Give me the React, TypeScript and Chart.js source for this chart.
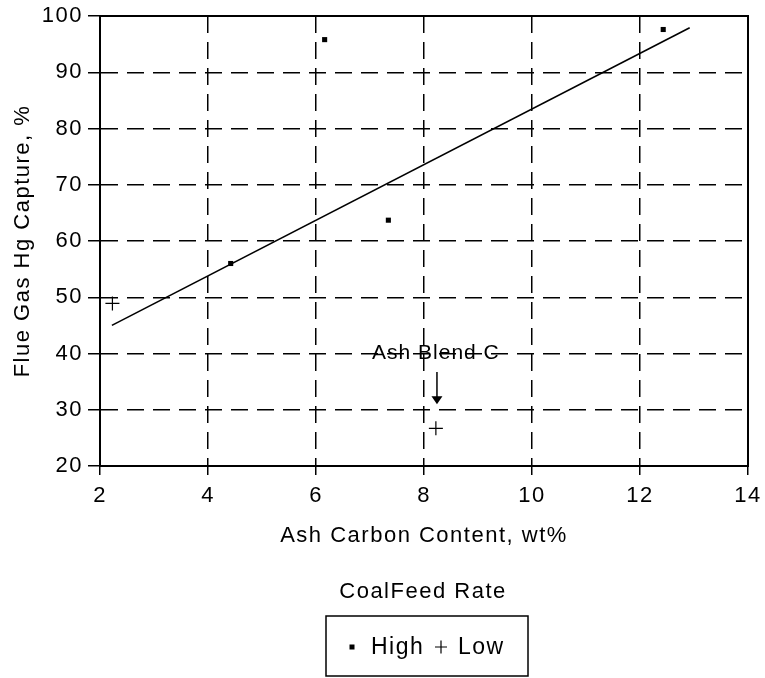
import React, { useEffect, useRef } from 'react';
import { Chart, registerables } from 'chart.js';

Chart.register(...registerables);

// ---- data ----
const xTickValues = [2, 4, 6, 8, 10, 12, 14];
const yTickValues = [20, 30, 40, 50, 60, 70, 80, 90, 100];
const seriesNames = ['High', 'Low'];
const highX = [4.42, 6.16, 7.34, 12.43];
const highY = [56, 95.8, 63.7, 97.6];
const lowX = [2.23, 8.22];
const lowY = [48.9, 26.7];
const trendX = [2.22, 12.92];
const trendY = [45.0, 97.9];
const legendTitle = 'CoalFeed Rate';
const xTitle = 'Ash Carbon Content, wt%';
const yTitle = 'Flue Gas Hg Capture, %';
const noteText = 'Ash Blend C';
const noteTextAt = [8.22, 40];
const noteArrowFrom = [8.24, 36.7];
const noteArrowTo = [8.24, 31.0];

const FONT = '"Liberation Sans", Arial, Helvetica, sans-serif';
const SPACING = '1.5px';

const toPoints = (xs: number[], ys: number[]) => xs.map((x, i) => ({ x, y: ys[i] }));

const spacingPlugin = {
  id: 'spacing',
  beforeLayout(chart: any) {
    chart.ctx.letterSpacing = SPACING;
  },
  beforeDraw(chart: any) {
    chart.ctx.letterSpacing = SPACING;
  },
};

const framePlugin = {
  id: 'frame',
  afterDatasetsDraw(chart: any) {
    const { ctx, chartArea: a, scales } = chart;
    ctx.save();
    ctx.strokeStyle = '#000';
    ctx.lineWidth = 2;
    ctx.setLineDash([]);
    ctx.strokeRect(a.left, a.top, a.right - a.left, a.bottom - a.top);

    // annotation
    const xs = scales.x, ys = scales.y;
    ctx.fillStyle = '#000';
    ctx.font = `21px ${FONT}`;
    (ctx as any).letterSpacing = '1px';
    ctx.textAlign = 'center';
    ctx.textBaseline = 'middle';
    ctx.fillText(noteText, xs.getPixelForValue(noteTextAt[0]), ys.getPixelForValue(noteTextAt[1]));
    const ax = xs.getPixelForValue(noteArrowFrom[0]);
    const ay1 = ys.getPixelForValue(noteArrowFrom[1]);
    const ay2 = ys.getPixelForValue(noteArrowTo[1]);
    ctx.lineWidth = 1.5;
    ctx.beginPath();
    ctx.moveTo(ax, ay1);
    ctx.lineTo(ax, ay2 - 6);
    ctx.stroke();
    ctx.beginPath();
    ctx.moveTo(ax - 5.5, ay2 - 8);
    ctx.lineTo(ax + 5.5, ay2 - 8);
    ctx.lineTo(ax, ay2);
    ctx.closePath();
    ctx.fill();
    ctx.restore();
  },
  afterDraw(chart: any) {
    const { ctx } = chart;
    ctx.save();
    (ctx as any).letterSpacing = SPACING;
    ctx.fillStyle = '#000';
    ctx.strokeStyle = '#000';
    ctx.font = `22px ${FONT}`;
    ctx.textBaseline = 'middle';
    ctx.textAlign = 'center';
    ctx.fillText(legendTitle, 423, 592);

    // legend box
    const names = [chart.data.datasets[0].label, chart.data.datasets[1].label];
    const bx = 326, by = 616, boxW = 202, boxH = 60;
    ctx.lineWidth = 1.5;
    ctx.strokeRect(bx, by, boxW, boxH);
    const my = by + boxH / 2 + 1;
    ctx.fillRect(bx + 26 - 2.5, my - 2.5, 5, 5);
    ctx.font = `23px ${FONT}`;
    ctx.textAlign = 'left';
    ctx.fillText(names[0], bx + 45, my + 1);
    const cx = bx + 115;
    ctx.lineWidth = 1.2;
    ctx.beginPath();
    ctx.moveTo(cx - 6, my);
    ctx.lineTo(cx + 6, my);
    ctx.moveTo(cx, my - 6.5);
    ctx.lineTo(cx, my + 6.5);
    ctx.stroke();
    ctx.fillText(names[1], bx + 132, my + 1);
    ctx.restore();
  },
};

export default function App() {
  const ref = useRef<HTMLCanvasElement | null>(null);
  useEffect(() => {
    if (!ref.current) return;
    const gridDash = [17, 9];
    const chart = new Chart(ref.current, {
      type: 'scatter',
      data: {
        datasets: [
          {
            label: seriesNames[0],
            data: toPoints(highX, highY),
            pointStyle: 'rect',
            pointRadius: 3.6,
            backgroundColor: '#000',
            borderColor: '#000',
            borderWidth: 0,
          },
          {
            label: seriesNames[1],
            data: toPoints(lowX, lowY),
            pointStyle: 'cross',
            pointRadius: 7,
            backgroundColor: '#000',
            borderColor: '#000',
            borderWidth: 1.2,
          },
          {
            label: 'Trend',
            data: toPoints(trendX, trendY),
            showLine: true,
            pointRadius: 0,
            borderColor: '#000',
            borderWidth: 1.6,
            fill: false,
          },
        ],
      } as any,
      options: {
        animation: false,
        responsive: false,
        events: [],
        layout: { padding: { left: 0, top: 16, right: 17, bottom: 131 } },
        plugins: { legend: { display: false }, tooltip: { enabled: false } },
        scales: {
          x: {
            type: 'linear',
            min: 2,
            max: 14,
            afterBuildTicks: (s: any) => { s.ticks = xTickValues.map((v) => ({ value: v })); },
            afterFit: (s: any) => { s.height = 81; s.paddingLeft = 0; s.paddingRight = 0; },
            ticks: { color: '#000', font: { family: FONT, size: 22, lineHeight: 1 }, padding: 10, maxRotation: 0, autoSkip: false },
            grid: { color: '#000', lineWidth: 1.5, tickLength: 9, tickColor: '#000', tickWidth: 1.5 },
            border: { display: true, color: '#000', width: 2, dash: gridDash },
            title: { display: true, text: xTitle, color: '#000', font: { family: FONT, size: 22, lineHeight: 1 }, padding: { top: 0, bottom: 0 } },
          },
          y: {
            type: 'linear',
            min: 20,
            max: 100,
            afterBuildTicks: (s: any) => { s.ticks = yTickValues.map((v) => ({ value: v })); },
            afterFit: (s: any) => { s.width = 100; s.paddingTop = 0; s.paddingBottom = 0; },
            ticks: { color: '#000', font: { family: FONT, size: 22, lineHeight: 1 }, padding: 5, autoSkip: false },
            grid: { color: '#000', lineWidth: 1.5, tickLength: 12, tickColor: '#000', tickWidth: 1.5 },
            border: { display: true, color: '#000', width: 2, dash: gridDash },
            title: { display: true, text: yTitle, color: '#000', font: { family: FONT, size: 22, lineHeight: 1 }, padding: { top: 12, bottom: 0 } },
          },
        },
      } as any,
      plugins: [spacingPlugin, framePlugin],
    });
    return () => chart.destroy();
  }, []);
  return (
    <div style={{ position: 'fixed', left: 0, top: 0, width: 765, height: 678, background: '#fff' }}>
      <canvas ref={ref} width={765} height={678} style={{ display: 'block', width: 765, height: 678 }} />
    </div>
  );
}
